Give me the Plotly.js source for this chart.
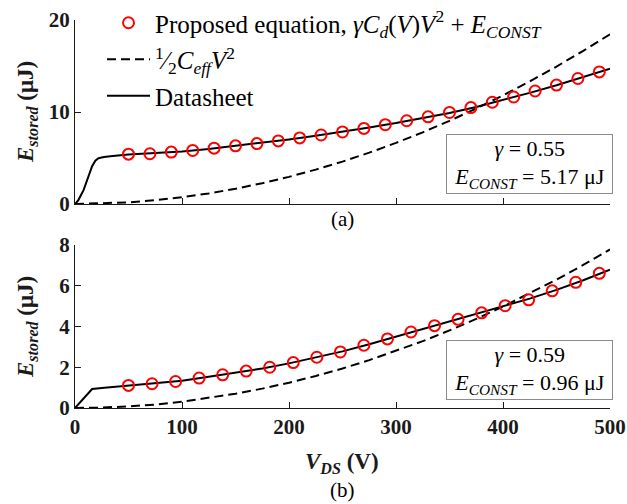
<!DOCTYPE html>
<html>
<head>
<meta charset="utf-8">
<script src="https://cdn.plot.ly/plotly-3.0.1.min.js"></script>
<style>html,body{margin:0;padding:0;background:#fff;}#chart{width:627px;height:504px;}</style>
</head>
<body>
<div id="chart"></div>
<script>
// ---- Data ----
// (a) top panel
const dsTopV = [0, 3, 8, 12, 16, 19, 22, 27, 33, 50, 75, 100, 125, 150, 175, 200, 225, 250, 275, 300, 325, 350, 375, 400, 425, 450, 475, 500];
const dsTopE = [0, 0.4, 1.5, 2.9, 4.1, 4.7, 4.97, 5.1, 5.2, 5.38, 5.52, 5.72, 5.98, 6.3, 6.65, 7.02, 7.42, 7.85, 8.32, 8.8, 9.33, 9.9, 10.55, 11.3, 12.08, 12.9, 13.78, 14.7];
const propTopV = [50, 70, 90, 110, 130, 150, 170, 190, 210, 230, 250, 270, 290, 310, 330, 350, 370, 390, 410, 430, 450, 470, 490];
const propTopE = [5.42, 5.46, 5.64, 5.82, 6.07, 6.32, 6.57, 6.86, 7.18, 7.5, 7.83, 8.22, 8.62, 9.05, 9.48, 9.95, 10.48, 11.06, 11.63, 12.28, 12.93, 13.64, 14.36];
const effTopV = [0, 25, 50, 75, 100, 125, 150, 175, 200, 225, 250, 275, 300, 325, 350, 375, 400, 425, 450, 475, 500];
const effTopE = [0, 0.05, 0.18, 0.42, 0.74, 1.15, 1.66, 2.26, 2.95, 3.74, 4.61, 5.58, 6.64, 7.79, 9.04, 10.38, 11.81, 13.33, 14.94, 16.65, 18.45];

// (b) bottom panel
const dsBotV = [0, 16, 25, 50, 75, 100, 125, 150, 175, 200, 225, 250, 275, 300, 325, 350, 375, 400, 425, 450, 475, 500];
const dsBotE = [0, 0.93, 0.98, 1.09, 1.2, 1.34, 1.53, 1.72, 1.94, 2.19, 2.47, 2.78, 3.13, 3.5, 3.88, 4.24, 4.6, 4.98, 5.37, 5.8, 6.27, 6.79];
const propBotV = [50, 72, 94, 116, 138, 160, 182, 204, 226, 248, 270, 292, 314, 336, 358, 380, 402, 424, 446, 468, 490];
const propBotE = [1.11, 1.19, 1.3, 1.47, 1.63, 1.81, 2.0, 2.23, 2.49, 2.75, 3.08, 3.39, 3.73, 4.04, 4.35, 4.67, 5.02, 5.31, 5.75, 6.17, 6.61];
const effBotV = [0, 25, 50, 75, 100, 125, 150, 175, 200, 225, 250, 275, 300, 325, 350, 375, 400, 425, 450, 475, 500];
const effBotE = [0, 0.02, 0.08, 0.17, 0.31, 0.49, 0.7, 0.95, 1.24, 1.57, 1.94, 2.35, 2.8, 3.28, 3.81, 4.37, 4.98, 5.62, 6.3, 7.02, 7.78];

const xTicks = [0, 100, 200, 300, 400, 500];
const yTicksTop = [0, 10, 20];
const yTicksBot = [0, 2, 4, 6, 8];

const legendNames = [
  'Proposed equation, <i>γC<sub>d</sub></i>(<i>V</i>)<i>V</i><sup>2</sup> + <i>E<sub>CONST</sub></i>',
  '<sup>1</sup>⁄<sub>2</sub><i>C<sub>eff</sub>V</i><sup>2</sup>',
  'Datasheet'
];
const boxTop = '<i>γ</i> = 0.55<br><i>E<sub>CONST</sub></i> = 5.17 μJ';
const boxBot = '<i>γ</i> = 0.59<br><i>E<sub>CONST</sub></i> = 0.96 μJ';

// ---- Styles ----
const SERIF = "'Liberation Serif', 'Times New Roman', serif";
const INK = '#1a1a1a';
const lineSolid = {color: '#000', width: 2};
const lineDash = {color: '#000', width: 2, dash: '9px,5px'};
const mk = {symbol: 'circle-open', size: 11, color: '#ff0000', line: {width: 2, color: '#ff0000'}};

const traces = [
  {x: dsTopV, y: dsTopE, xaxis: 'x', yaxis: 'y', mode: 'lines', line: lineSolid, name: legendNames[2], legendrank: 3, legendgroup: 'c'},
  {x: effTopV, y: effTopE, xaxis: 'x', yaxis: 'y', mode: 'lines', line: lineDash, name: legendNames[1], legendrank: 2, legendgroup: 'b'},
  {x: propTopV, y: propTopE, xaxis: 'x', yaxis: 'y', mode: 'markers', marker: mk, name: legendNames[0], legendrank: 1, legendgroup: 'a'},
  {x: dsBotV, y: dsBotE, xaxis: 'x2', yaxis: 'y2', mode: 'lines', line: lineSolid, showlegend: false},
  {x: effBotV, y: effBotE, xaxis: 'x2', yaxis: 'y2', mode: 'lines', line: lineDash, showlegend: false},
  {x: propBotV, y: propBotE, xaxis: 'x2', yaxis: 'y2', mode: 'markers', marker: mk, showlegend: false}
];

const W = 627, H = 504;
const px = v => v / W;
const py = v => 1 - v / H;

const tickFont = {family: SERIF, size: 21, color: INK, weight: 'bold'};
const axBase = {
  showline: true, linecolor: INK, linewidth: 1, mirror: false,
  ticks: 'inside', ticklen: 6, tickwidth: 1, tickcolor: INK,
  showgrid: false, zeroline: false, tickfont: tickFont, fixedrange: true
};

const layout = {
  width: W, height: H,
  margin: {l: 0, r: 0, t: 0, b: 0},
  paper_bgcolor: '#fff', plot_bgcolor: 'rgba(0,0,0,0)',
  showlegend: true,
  legend: {
    x: px(102), y: py(0), xanchor: 'left', yanchor: 'top',
    bgcolor: 'rgba(0,0,0,0)', borderwidth: 0,
    font: {family: SERIF, size: 25, color: '#000'},
    tracegroupgap: 1, itemwidth: 43
  },
  xaxis: Object.assign({}, axBase, {domain: [px(75), px(610)], anchor: 'y', range: [0, 500], tickvals: xTicks, showticklabels: false}),
  yaxis: Object.assign({}, axBase, {domain: [py(204), py(20)], anchor: 'x', range: [0, 20], tickvals: yTicksTop}),
  xaxis2: Object.assign({}, axBase, {domain: [px(75), px(610)], anchor: 'y2', range: [0, 500], tickvals: xTicks}),
  yaxis2: Object.assign({}, axBase, {domain: [py(408), py(245)], anchor: 'x2', range: [0, 8], tickvals: yTicksBot}),
  annotations: [
    {xref: 'paper', yref: 'paper', x: px(529), y: py(164.5), xanchor: 'center', yanchor: 'middle',
     text: boxTop, showarrow: false, align: 'center', font: {family: SERIF, size: 22, color: '#000'},
     bgcolor: '#fff', bordercolor: '#8c8c8c', borderwidth: 1, borderpad: 1, width: 163, height: 56},
    {xref: 'paper', yref: 'paper', x: px(529), y: py(369.5), xanchor: 'center', yanchor: 'middle',
     text: boxBot, showarrow: false, align: 'center', font: {family: SERIF, size: 22, color: '#000'},
     bgcolor: '#fff', bordercolor: '#8c8c8c', borderwidth: 1, borderpad: 1, width: 163, height: 56},
    {xref: 'paper', yref: 'paper', x: px(342), y: py(219), xanchor: 'center', yanchor: 'middle',
     text: '(a)', showarrow: false, font: {family: SERIF, size: 21, color: '#000'}},
    {xref: 'paper', yref: 'paper', x: px(342), y: py(490), xanchor: 'center', yanchor: 'middle',
     text: '(b)', showarrow: false, font: {family: SERIF, size: 21, color: '#000'}},
    {xref: 'paper', yref: 'paper', x: px(342), y: py(463), xanchor: 'center', yanchor: 'middle',
     text: '<b><i>V</i></b><sub><b><i>DS</i></b></sub><b> (V)</b>', showarrow: false, font: {family: SERIF, size: 23, color: INK}},
    {xref: 'paper', yref: 'paper', x: px(27), y: py(112), xanchor: 'center', yanchor: 'middle', textangle: -90,
     text: '<b><i>E</i></b><sub><b><i>stored</i></b></sub><b> (μJ)</b>', showarrow: false, font: {family: SERIF, size: 23, color: INK}},
    {xref: 'paper', yref: 'paper', x: px(27), y: py(327), xanchor: 'center', yanchor: 'middle', textangle: -90,
     text: '<b><i>E</i></b><sub><b><i>stored</i></b></sub><b> (μJ)</b>', showarrow: false, font: {family: SERIF, size: 23, color: INK}}
  ]
};

Plotly.newPlot('chart', traces, layout, {staticPlot: true, displayModeBar: false});
</script>
</body>
</html>
